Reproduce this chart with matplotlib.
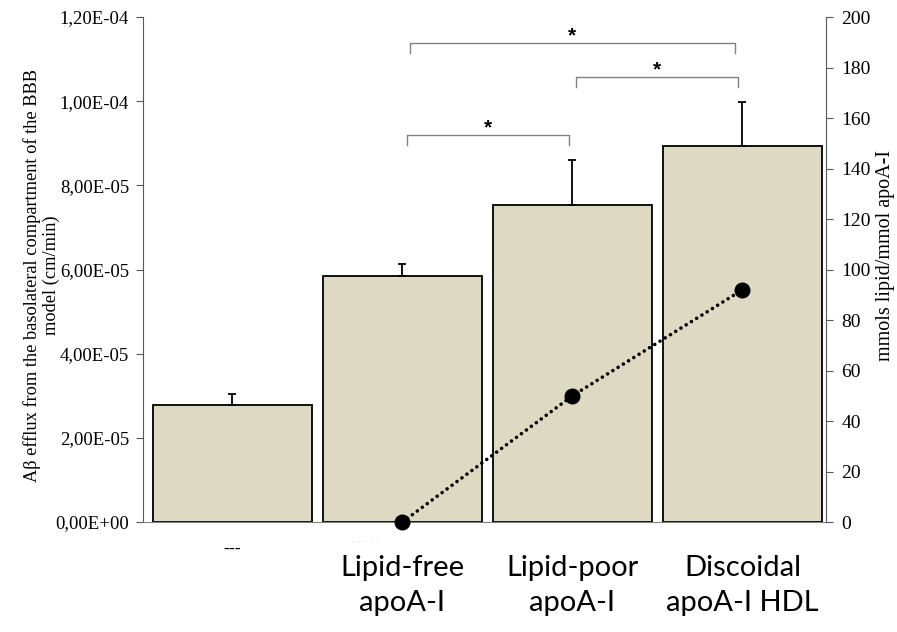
import matplotlib
matplotlib.use("Agg")
import matplotlib.pyplot as plt
import numpy as np

# Daten
kategorien = ["---", "Lipid-free\napoA-I", "Lipid-poor\napoA-I", "Discoidal\napoA-I HDL"]
efflux = [2.78e-5, 5.85e-5, 7.53e-5, 8.93e-5]
efflux_err = [0.27e-5, 0.27e-5, 1.07e-5, 1.06e-5]
lipid_x = [1, 2, 3]
lipid_werte = [0, 50, 92]
links_ticks = [0, 2e-5, 4e-5, 6e-5, 8e-5, 1e-4, 1.2e-4]
links_labels = ["0,00E+00", "2,00E-05", "4,00E-05", "6,00E-05", "8,00E-05", "1,00E-04", "1,20E-04"]
rechts_ticks = list(range(0, 201, 20))

# Signifikanz-Klammern: (x1, x2, y, Text)
klammern = [(1.044, 2.956, 1.138e-4, "*"),
            (2.02, 2.974, 1.057e-4, "*"),
            (1.026, 1.979, 0.92e-4, "*")]

fig = plt.figure(figsize=(8.97, 6.32), dpi=100)
ax = fig.add_axes([0.1594, 0.174, 0.7614, 0.799])

x = np.arange(len(kategorien))
ax.bar(x, efflux, width=0.935, color="#DDD9C3", edgecolor="black", linewidth=1.3, zorder=2)
ax.errorbar(x, efflux, yerr=[np.zeros(len(efflux)), efflux_err], fmt="none",
            ecolor="black", elinewidth=1.3, capsize=3, capthick=1.3, zorder=3)

ax.set_xlim(-0.526, 3.491)
ax.set_ylim(0, 1.2e-4)
ax.set_yticks(links_ticks)
ax.set_yticklabels(links_labels, family="Liberation Serif", fontsize=13.5)
ax.set_xticks([])
ax.tick_params(axis="y", direction="out", length=5, color="#595959", pad=5)
for s in ["top", "right"]:
    ax.spines[s].set_visible(False)
ax.spines["left"].set_color("#595959")
ax.spines["bottom"].set_color("#808080")
ax.set_ylabel("A\u03b2 efflux from the basolateral compartment of the BBB\nmodel (cm/min)",
              family="Liberation Serif", fontsize=13.2, linespacing=1.1)
ax.yaxis.set_label_coords(-0.1215, 0.489)

# Kategorie-Beschriftungen
ax.text(0, -0.45e-5, kategorien[0], ha="center", va="top",
        family="Liberation Serif", fontsize=13)
ax.text(0.703, -0.28e-5, ". . . . .", ha="left", va="top", color="#c8c8c8", fontsize=7)
for i in range(1, len(kategorien)):
    ax.text(x[i], -0.78e-5, kategorien[i], ha="center", va="top",
            family="Lato", fontsize=21, linespacing=1.45)

# Klammern
for x1, x2, yk, txt in klammern:
    d = 0.24e-5
    ax.plot([x1, x1, x2, x2], [yk - d, yk, yk, yk - d], color="#808080", lw=1.0, clip_on=False)
    ax.text((x1 + x2) / 2, yk - 0.05e-5, txt, ha="center", va="bottom",
            fontsize=15, family="Liberation Sans", fontweight="bold")

# Rechte Achse
ax2 = ax.twinx()
ax2.set_ylim(0, 200)
ax2.set_yticks(rechts_ticks)
ax2.set_yticklabels([str(t) for t in rechts_ticks], family="Liberation Serif", fontsize=14)
ax2.tick_params(axis="y", direction="out", length=5, color="#595959", pad=6)
for s in ["top", "left", "bottom"]:
    ax2.spines[s].set_visible(False)
ax2.spines["right"].set_color("#595959")
ax2.set_ylabel("mmols lipid/mmol apoA-I", family="Liberation Serif", fontsize=14.5)
ax2.yaxis.set_label_coords(1.073, 0.527)
ax2.plot(lipid_x, lipid_werte, linestyle=(0, (0.01, 1.7)), dash_capstyle="round",
         color="black", lw=2.6, marker="o", markersize=10.5, clip_on=False, zorder=5)

fig.savefig("out.png", dpi=100)
